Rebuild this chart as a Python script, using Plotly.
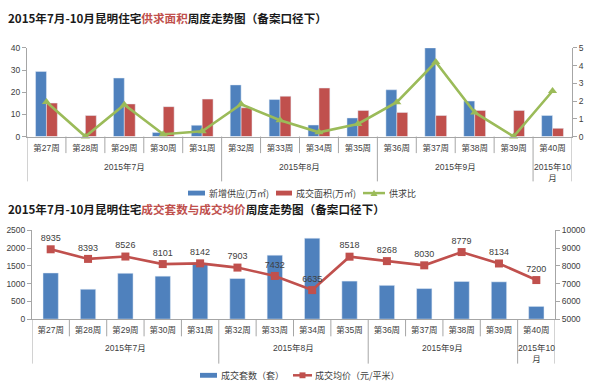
import plotly.graph_objects as go

# ---------------- data ----------------
weeks = ["第27周", "第28周", "第29周", "第30周", "第31周", "第32周", "第33周",
         "第34周", "第35周", "第36周", "第37周", "第38周", "第39周", "第40周"]
months = ["2015年7月", "2015年8月", "2015年9月", "2015年10<br>月"]
month_counts = [5, 4, 4, 1]

supply = [29.4, 0, 26.4, 1.8, 5.1, 23.3, 16.7, 5.2, 8.4, 21.1, 40.0, 16.0, 0, 9.5]
deal_area = [15.1, 9.5, 14.7, 13.5, 16.9, 13.0, 18.2, 21.9, 11.8, 10.9, 9.5, 11.8, 11.8, 3.7]
ratio = [1.95, 0, 1.80, 0.13, 0.30, 1.82, 0.92, 0.24, 0.71, 1.94, 4.20, 1.36, 0, 2.57]

units = [1300, 841, 1291, 1209, 1575, 1143, 1802, 2280, 1071, 951, 860, 1060, 1050, 357]
price = [8935, 8393, 8526, 8101, 8142, 7903, 7432, 6635, 8518, 8268, 8030, 8779, 8134, 7200]

title1_a, title1_red, title1_b = "2015年7月-10月昆明住宅", "供求面积", "周度走势图（备案口径下）"
title2_a, title2_red, title2_b = "2015年7月-10月昆明住宅", "成交套数与成交均价", "周度走势图（备案口径下）"
legend1 = ["新增供应(万㎡)", "成交面积(万㎡)", "供求比"]
legend2 = ["成交套数（套）", "成交均价（元/平米）"]

# ---------------- style ----------------
W, H = 600, 392
BLUE, RED, GREEN = "#4F81BD", "#C0504D", "#9BBB59"
AXC = "#A6A6A6"
TXT = "#404040"
FONT = "Liberation Sans, Noto Sans CJK SC, sans-serif"
CJK = "Noto Sans CJK SC, sans-serif"


def py(px):
    return 1 - px / H


def pxx(px):
    return px / W


fig = go.Figure()

# chart 1
fig.add_trace(go.Bar(x=weeks, y=supply, marker_color=BLUE, width=0.28, offset=-0.28,
                     xaxis="x", yaxis="y", showlegend=False))
fig.add_trace(go.Bar(x=weeks, y=deal_area, marker_color=RED, width=0.28, offset=0.0,
                     xaxis="x", yaxis="y", showlegend=False))
fig.add_trace(go.Scatter(x=weeks, y=ratio, mode="lines+markers",
                         line=dict(color=GREEN, width=2.6),
                         marker=dict(symbol="triangle-up", size=8, color=GREEN),
                         xaxis="x", yaxis="y2", showlegend=False, cliponaxis=False))

# chart 2
fig.add_trace(go.Bar(x=weeks, y=units, marker_color=BLUE, width=0.41,
                     xaxis="x2", yaxis="y3", showlegend=False))
fig.add_trace(go.Scatter(x=weeks, y=price, mode="lines+markers+text",
                         text=[str(v) for v in price], textposition="top center",
                         textfont=dict(size=9, color=TXT, family=FONT),
                         line=dict(color=RED, width=2.6),
                         marker=dict(symbol="square", size=8, color=RED),
                         xaxis="x2", yaxis="y4", showlegend=False, cliponaxis=False))

# geometry (pixels)
c1 = dict(x0=27, x1=572, ytop=44, ybot=135, tick_end=152, div_end=181, grp_top=159)
c2 = dict(x0=32, x1=555, ytop=231.3, ybot=322.3, tick_end=340, div_end=368, grp_top=345)

xcommon = dict(type="category", range=[-0.5, len(weeks) - 0.5], showline=True,
               linecolor=AXC, linewidth=1, ticks="", showgrid=False, zeroline=False,
               tickfont=dict(size=8.5, color=TXT, family=FONT), fixedrange=True,
               ticklabelstandoff=3)
ycommon = dict(showline=True, linecolor=AXC, linewidth=1, ticks="outside", ticklen=4,
               tickcolor=AXC, showgrid=False, zeroline=False, tickformat="d",
               tickfont=dict(size=8.5, color=TXT, family=FONT))

fig.update_layout(
    width=W, height=H, margin=dict(l=0, r=0, t=0, b=0),
    paper_bgcolor="white", plot_bgcolor="rgba(0,0,0,0)",
    barmode="overlay", showlegend=False,
    xaxis=dict(domain=[pxx(c1["x0"]), pxx(c1["x1"])], anchor="y", **xcommon),
    yaxis=dict(domain=[py(c1["ybot"]), py(c1["ytop"])], range=[0, 40], dtick=10,
               anchor="x", **ycommon),
    yaxis2=dict(domain=[py(c1["ybot"]), py(c1["ytop"])], range=[0, 5], dtick=1,
                overlaying="y", side="right", anchor="x", **ycommon),
    xaxis2=dict(domain=[pxx(c2["x0"]), pxx(c2["x1"])], anchor="y3", **xcommon),
    yaxis3=dict(domain=[py(c2["ybot"]), py(c2["ytop"])], range=[0, 2500], dtick=500,
                anchor="x2", **ycommon),
    yaxis4=dict(domain=[py(c2["ybot"]), py(c2["ytop"])], range=[5000, 10000], dtick=1000,
                overlaying="y3", side="right", anchor="x2", **ycommon),
)

shapes = []
annots = []

# category dividers and group labels
boundaries = [-0.5]
for n in month_counts:
    boundaries.append(boundaries[-1] + n)
for xr, c in (("x", c1), ("x2", c2)):
    for i in range(len(weeks) + 1):
        b = i - 0.5
        long = b in boundaries
        shapes.append(dict(type="line", xref=xr, yref="paper", x0=b, x1=b,
                           y0=py(c["ybot"]), y1=py(c["div_end"] if long else c["tick_end"]),
                           line=dict(color=AXC, width=1)))
    for k, m in enumerate(months):
        center = (boundaries[k] + boundaries[k + 1]) / 2
        annots.append(dict(xref=xr, yref="paper", x=center, y=py(c["grp_top"]),
                           xanchor="center", yanchor="top", text=m, showarrow=False,
                           font=dict(size=8.5, color=TXT, family=FONT)))

# titles
annots.append(dict(xref="paper", yref="paper", x=pxx(6), y=py(13), xanchor="left",
                   yanchor="middle", showarrow=False,
                   text=f"<b>{title1_a}<span style='color:{RED}'>{title1_red}</span>{title1_b}</b>",
                   font=dict(size=11.6, color="#1A1A1A", family=CJK)))
annots.append(dict(xref="paper", yref="paper", x=pxx(6), y=py(209), xanchor="left",
                   yanchor="middle", showarrow=False,
                   text=f"<b>{title2_a}<span style='color:{RED}'>{title2_red}</span>{title2_b}</b>",
                   font=dict(size=11.6, color="#1A1A1A", family=CJK)))

# legend 1
ly = 193
shapes.append(dict(type="rect", xref="paper", yref="paper", x0=pxx(188), x1=pxx(205),
                   y0=py(ly + 2.5), y1=py(ly - 2.5), fillcolor=BLUE, line=dict(width=0)))
shapes.append(dict(type="rect", xref="paper", yref="paper", x0=pxx(276), x1=pxx(292),
                   y0=py(ly + 2.5), y1=py(ly - 2.5), fillcolor=RED, line=dict(width=0)))
shapes.append(dict(type="line", xref="paper", yref="paper", x0=pxx(363), x1=pxx(385),
                   y0=py(ly), y1=py(ly), line=dict(color=GREEN, width=2.5)))
tx, tw = 374, 3.5
shapes.append(dict(type="path", xref="paper", yref="paper",
                   path=f"M {pxx(tx - tw)},{py(ly + 3)} L {pxx(tx + tw)},{py(ly + 3)} L {pxx(tx)},{py(ly - 3.5)} Z",
                   fillcolor=GREEN, line=dict(width=0)))
for xpos, t in zip((207, 294, 387), legend1):
    annots.append(dict(xref="paper", yref="paper", x=pxx(xpos), y=py(ly), xanchor="left",
                       yanchor="middle", text=t, showarrow=False,
                       font=dict(size=9, color=TXT, family=CJK)))

# legend 2
ly2 = 380
shapes.append(dict(type="rect", xref="paper", yref="paper", x0=pxx(200), x1=pxx(217),
                   y0=py(ly2 + 2.5), y1=py(ly2 - 2.5), fillcolor=BLUE, line=dict(width=0)))
shapes.append(dict(type="line", xref="paper", yref="paper", x0=pxx(293), x1=pxx(312),
                   y0=py(ly2), y1=py(ly2), line=dict(color=RED, width=2.5)))
shapes.append(dict(type="rect", xref="paper", yref="paper", x0=pxx(299.5), x1=pxx(305.5),
                   y0=py(ly2 + 3), y1=py(ly2 - 3), fillcolor=RED, line=dict(width=0)))
for xpos, t in zip((219, 313), legend2):
    annots.append(dict(xref="paper", yref="paper", x=pxx(xpos), y=py(ly2), xanchor="left",
                       yanchor="middle", text=t, showarrow=False,
                       font=dict(size=9, color=TXT, family=CJK)))

fig.update_layout(shapes=shapes, annotations=annots)
fig.write_html("out.html", config={"displayModeBar": False},
               post_script="document.body.style.margin='0';document.body.style.overflow='hidden';")
